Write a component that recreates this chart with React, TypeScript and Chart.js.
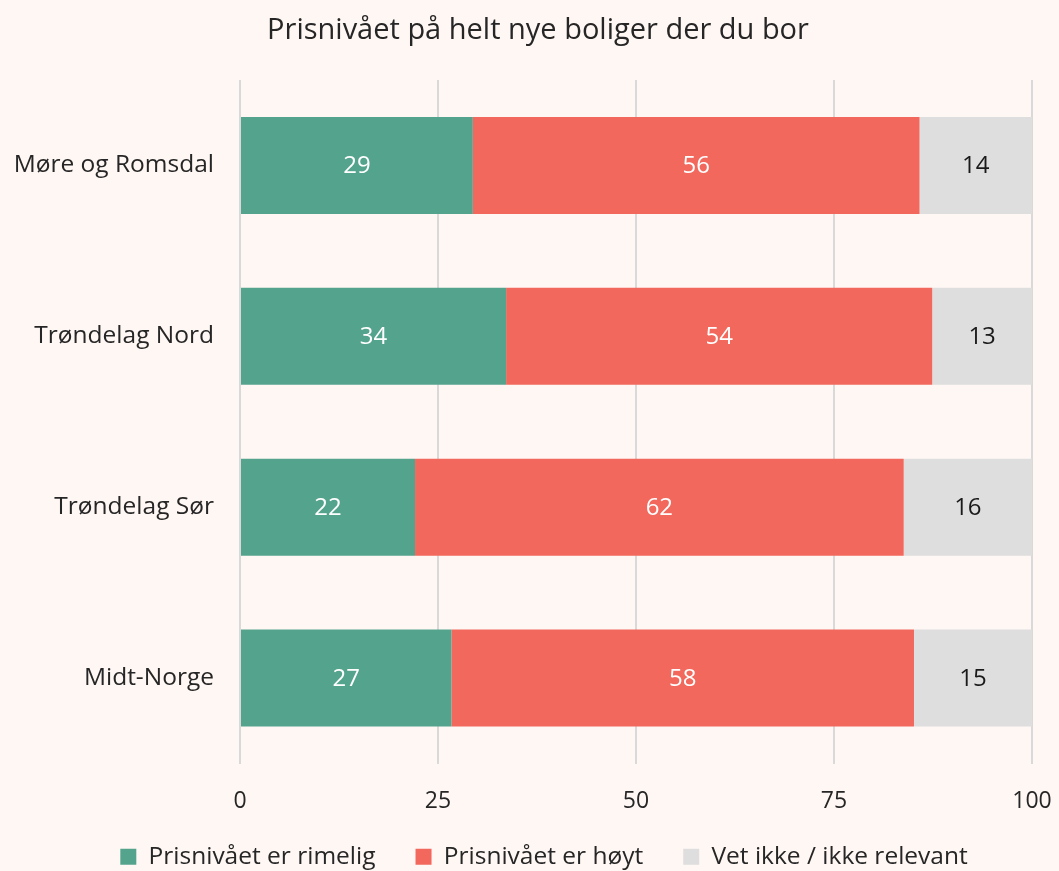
import React, { useEffect, useRef } from "react";
import { Chart, registerables } from "chart.js";

Chart.register(...registerables);

const title = "Prisnivået på helt nye boliger der du bor";
const categories = ["Møre og Romsdal", "Trøndelag Nord", "Trøndelag Sør", "Midt-Norge"];
const seriesNames = ["Prisnivået er rimelig", "Prisnivået er høyt", "Vet ikke / ikke relevant"];
const rimelig = [29.4, 33.6, 22.1, 26.7];
const hoyt = [56.4, 53.8, 61.7, 58.4];
const vetIkke = [14.2, 12.6, 16.2, 14.9];
const xTicks = [0, 25, 50, 75, 100];

const COLORS = ["#54A38D", "#F2685C", "#DEDEDE"];
const LABEL_COLORS = ["#FFFFFF", "#FFFFFF", "#1A1A1A"];
const BG = "#FFF7F4";
const TEXT = "#262626";
const FONT = "'Open Sans', sans-serif";

const bgPlugin = {
  id: "bgFill",
  beforeDraw(chart: any) {
    const { ctx, width, height } = chart;
    ctx.save();
    ctx.fillStyle = BG;
    ctx.fillRect(0, 0, width, height);
    ctx.restore();
  },
};

const shiftPlugin = {
  id: "shiftBlocks",
  afterLayout(chart: any) {
    if (chart.legend) {
      chart.legend.left += 28;
      chart.legend.right += 28;
    }
    if (chart.titleBlock) {
      chart.titleBlock.left += 22;
      chart.titleBlock.right += 22;
    }
    if (chart.scales && chart.scales.x) {
      chart.scales.x.bottom = chart.height;
    }
  },
};

const labelPlugin = {
  id: "barLabels",
  afterDatasetsDraw(chart: any) {
    const { ctx } = chart;
    ctx.save();
    ctx.font = `24px ${FONT}`;
    ctx.textAlign = "center";
    ctx.textBaseline = "middle";
    chart.data.datasets.forEach((ds: any, di: number) => {
      const meta = chart.getDatasetMeta(di);
      meta.data.forEach((bar: any, i: number) => {
        const v = ds.data[i];
        const x = (bar.x + bar.base) / 2;
        ctx.fillStyle = LABEL_COLORS[di];
        ctx.fillText(String(Math.round(v)), x, bar.y + 1);
      });
    });
    ctx.restore();
  },
};

export default function App() {
  const ref = useRef<HTMLCanvasElement | null>(null);
  useEffect(() => {
    document.body.style.margin = "0";
    const canvas = ref.current;
    if (!canvas) return;
    const series = [rimelig, hoyt, vetIkke];
    const chart = new Chart(canvas, {
      type: "bar",
      data: {
        labels: categories,
        datasets: series.map((d, i) => ({
          label: seriesNames[i],
          data: d,
          backgroundColor: COLORS[i],
          borderWidth: 0,
          barPercentage: 0.567,
          categoryPercentage: 1,
        })),
      },
      options: {
        indexAxis: "y",
        animation: false,
        responsive: false,
        maintainAspectRatio: false,
        layout: { padding: { left: 0, right: 27, top: 0, bottom: -8 } },
        scales: {
          x: {
            stacked: true,
            min: 0,
            max: 100,
            afterBuildTicks: (scale: any) => {
              scale.ticks = xTicks.map((v) => ({ value: v }));
            },
            afterFit: (scale: any) => {
              scale.height = 41;
              scale.paddingRight = 0;
              scale.paddingLeft = 0;
            },
            grid: { color: "#D9D9D9", lineWidth: 2, drawTicks: false },
            border: { display: false },
            ticks: { color: TEXT, font: { family: FONT, size: 23 }, padding: 24 },
          },
          y: {
            stacked: true,
            afterFit: (scale: any) => {
              scale.width = 240;
            },
            grid: { display: false, drawTicks: false },
            border: { display: false },
            ticks: { color: TEXT, font: { family: FONT, size: 24.5 }, padding: 26 },
          },
        },
        plugins: {
          title: {
            display: true,
            text: title,
            color: TEXT,
            font: { family: FONT, size: 29, weight: "normal" },
            padding: { top: 13.6, bottom: 31.6 },
          },
          legend: {
            position: "bottom",
            labels: {
              color: TEXT,
              font: { family: FONT, size: 24.5 },
              boxWidth: 16,
              boxHeight: 16,
              padding: 40,
            },
          },
          tooltip: { enabled: false },
        },
      },
      plugins: [bgPlugin, shiftPlugin, labelPlugin],
    });
    return () => chart.destroy();
  }, []);
  return (
    <div style={{ width: 1059, height: 871, background: BG }}>
      <canvas ref={ref} width={1059} height={871} style={{ display: "block" }} />
    </div>
  );
}
